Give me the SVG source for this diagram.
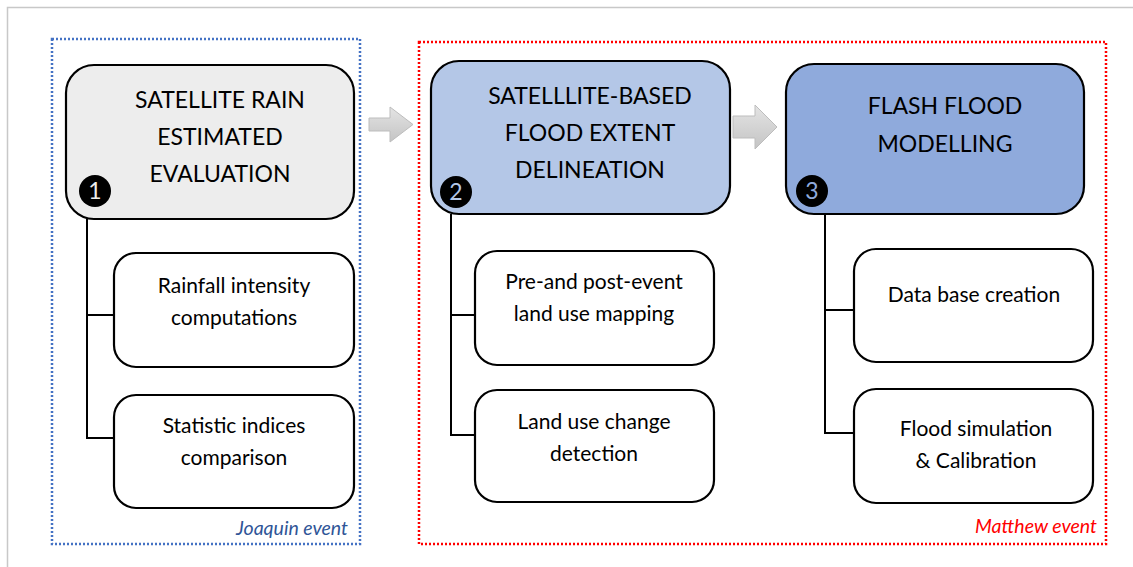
<svg xmlns="http://www.w3.org/2000/svg" width="1133" height="567" viewBox="0 0 1133 567">
<defs>
<linearGradient id="ag" x1="0" y1="0" x2="0" y2="1">
<stop offset="0" stop-color="#E4E4E4"/>
<stop offset="1" stop-color="#C4C4C4"/>
</linearGradient>
<style>
.main{stroke:#000;stroke-width:2.2}
.sub{fill:#fff;stroke:#000;stroke-width:2.2}
.t{font-family:Lato,"Liberation Sans",sans-serif;fill:#000;text-anchor:middle}
.tm{font-size:23px}
.ts{font-size:21px}
.badge{fill:#000}
.bn{font-family:Lato,"Liberation Sans",sans-serif;font-size:23px;text-anchor:middle}
.conn{fill:none;stroke:#000;stroke-width:2}
.arrow{fill:url(#ag);stroke:#BDBDBD;stroke-width:1}
.lbl{font-family:Lato,"Liberation Sans",sans-serif;font-style:italic;font-size:19.5px;text-anchor:end}
</style>
</defs>
<rect width="1133" height="567" fill="#fff"/>
<path d="M7.5,567 V7.5 H1133" fill="none" stroke="#C8C8C8" stroke-width="1.5"/>

<g id="group-joaquin">
<rect x="52" y="39" width="308" height="505" fill="none" stroke="#4472C4" stroke-width="2.5" stroke-dasharray="2,2"/>
<text class="lbl" x="348" y="535" fill="#2F5597">Joaquin event</text>
</g>
<g id="group-matthew">
<rect x="419" y="42" width="687" height="502" fill="none" stroke="#FF0000" stroke-width="2.5" stroke-dasharray="2,2"/>
<text class="lbl" x="1097" y="533" fill="#FF0000">Matthew event</text>
</g>

<g id="connectors">
<path class="conn" d="M87,219 V438 H114 M87,315 H114"/>
<path class="conn" d="M451,214 V435 H475 M451,315 H475"/>
<path class="conn" d="M825,214 V433 H854 M825,310 H854"/>
<path class="arrow" d="M369,118 H390 V107 L413,124.5 L390,142 V131 H369 Z"/>
<path class="arrow" d="M733,116 H755 V105 L777,127 L755,149 V138 H733 Z"/>
</g>

<g id="node-1">
<rect class="main" x="66" y="65" width="288" height="154" rx="28" fill="#EDEDED"/>
<text class="t tm" x="220" y="108">SATELLITE RAIN</text>
<text class="t tm" x="220" y="145">ESTIMATED</text>
<text class="t tm" x="220" y="182">EVALUATION</text>
<circle class="badge" cx="95" cy="191" r="16"/>
<text class="bn" x="95" y="199" fill="#EDEDED">1</text>
</g>
<g id="node-2">
<rect class="main" x="431" y="61" width="299" height="153" rx="28" fill="#B4C7E7"/>
<text class="t tm" x="590" y="104">SATELLLITE-BASED</text>
<text class="t tm" x="590" y="141">FLOOD EXTENT</text>
<text class="t tm" x="590" y="178">DELINEATION</text>
<circle class="badge" cx="456" cy="192" r="16"/>
<text class="bn" x="456" y="200" fill="#B4C7E7">2</text>
</g>
<g id="node-3">
<rect class="main" x="786" y="64" width="298" height="150" rx="28" fill="#8FAADC"/>
<text class="t tm" x="945" y="114">FLASH FLOOD</text>
<text class="t tm" x="945" y="152">MODELLING</text>
<circle class="badge" cx="812" cy="191" r="16"/>
<text class="bn" x="812" y="199" fill="#8FAADC">3</text>
</g>

<g id="node-1a">
<rect class="sub" x="114" y="253" width="240" height="114" rx="22"/>
<text class="t ts" x="234" y="293">Rainfall intensity</text>
<text class="t ts" x="234" y="325">computations</text>
</g>
<g id="node-1b">
<rect class="sub" x="114" y="395" width="240" height="113" rx="22"/>
<text class="t ts" x="234" y="433">Statistic indices</text>
<text class="t ts" x="234" y="465">comparison</text>
</g>
<g id="node-2a">
<rect class="sub" x="475" y="251" width="239" height="114" rx="22"/>
<text class="t ts" x="594" y="289">Pre-and post-event</text>
<text class="t ts" x="594" y="321">land use mapping</text>
</g>
<g id="node-2b">
<rect class="sub" x="475" y="390" width="239" height="112" rx="22"/>
<text class="t ts" x="594" y="429">Land use change</text>
<text class="t ts" x="594" y="461">detection</text>
</g>
<g id="node-3a">
<rect class="sub" x="854" y="249" width="239" height="113" rx="22"/>
<text class="t ts" x="974" y="302">Data base creation</text>
</g>
<g id="node-3b">
<rect class="sub" x="854" y="389" width="239" height="114" rx="22"/>
<text class="t ts" x="976" y="436">Flood simulation</text>
<text class="t ts" x="976" y="468">&amp; Calibration</text>
</g>
</svg>
